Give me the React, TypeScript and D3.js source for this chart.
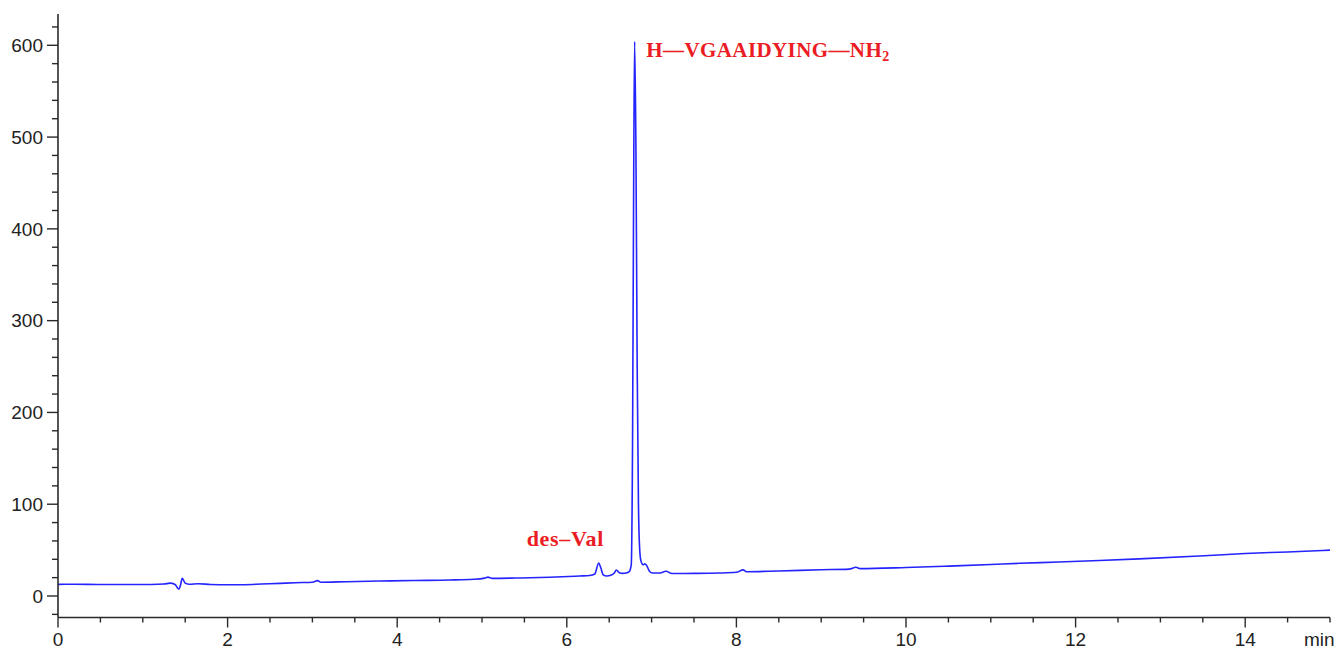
import React from "react";
import * as d3 from "d3";

const times = [
  0.0, 0.2, 0.5, 0.8, 1.1, 1.25, 1.32, 1.38, 1.426, 1.445, 1.465, 1.5, 1.55, 1.65, 1.8, 2.0, 2.2, 2.4, 2.62, 2.8,
  3.0, 3.06, 3.1, 3.4, 3.79, 4.2, 4.62, 4.9, 5.03, 5.07, 5.12, 5.4, 5.8, 6.15, 6.27, 6.33, 6.376, 6.4, 6.43, 6.47,
  6.52, 6.56, 6.585, 6.62, 6.66, 6.7, 6.735, 6.76, 6.775, 6.79, 6.8, 6.815, 6.83, 6.845, 6.86, 6.875, 6.9, 6.92,
  6.94, 6.975, 7.01, 7.09, 7.17, 7.24, 7.5, 7.8, 8.0, 8.08, 8.12, 8.5, 9.0, 9.33, 9.41, 9.46, 10.0, 10.51, 11.0,
  11.34, 11.8, 12.28, 12.75, 13.46, 14.0, 14.5, 15.0,
];
const signal = [
  12.7, 12.8, 12.5, 12.6, 12.6, 13.0, 14.0, 12.5, 7.3, 12.0, 19.3, 14.0, 12.8, 13.3, 12.6, 12.2, 12.3, 13.0, 13.8, 14.5,
  15.0, 16.7, 15.0, 15.6, 16.3, 16.9, 17.4, 18.2, 19.5, 20.6, 19.2, 19.6, 20.5, 21.8, 22.3, 24.0, 36.0, 31.0, 23.0, 21.8,
  22.5, 25.0, 28.3, 25.3, 24.6, 25.0, 26.5, 34.0, 160, 480, 604, 490, 250, 100, 50, 38, 34, 35,
  33.5, 27.0, 25.0, 25.0, 27.0, 24.5, 24.6, 25.0, 25.8, 28.5, 26.5, 27.3, 28.6, 29.3, 31.3, 29.8, 31.0, 32.6, 34.3,
  35.6, 37.0, 38.7, 40.5, 43.6, 46.3, 48.0, 50.0,
];
const xMajorTicks = [0, 2, 4, 6, 8, 10, 12, 14];
const yMajorTicks = [0, 100, 200, 300, 400, 500, 600];
const xUnit = "min";
const peakLabels = [
  { text: "des\u2013Val", t: 5.527, v: 54.8, size: 22, spacing: 0.7 },
  { text: "H\u2014VGAAIDYING\u2014NH", sub: "2", t: 6.938, v: 587.5, size: 21, spacing: 0.4 },
];

const W = 1335;
const H = 649;

export default function App() {
  const x = d3.scaleLinear().domain([0, 15]).range([58, 1330]);
  const y = d3.scaleLinear().domain([0, 600]).range([596, 45.3]);
  const yTop = 14;
  const yBottom = 617.5;
  const pts = times.map((t, i) => [t, signal[i]] as [number, number]);
  const line = d3
    .line<[number, number]>()
    .x((d) => x(d[0]))
    .y((d) => y(d[1]))
    .curve(d3.curveMonotoneX);

  const xMinor = d3.range(0, 15.01, 0.5).filter((v) => Math.abs(v % 2) > 1e-6);
  const yMinor = d3.range(-20, 621, 20).filter((v) => v % 100 !== 0);

  const axisColor = "#2a2a2a";
  const textColor = "#222";
  const red = "#ec1c24";

  return (
    <svg width={W} height={H} style={{ position: "absolute", left: 0, top: 0, background: "#fff" }}>
      <path d={line(pts) || ""} fill="none" stroke="#2424ff" strokeWidth={1.6} strokeLinejoin="round" />
      {/* y axis */}
      <line x1={58} x2={58} y1={yTop} y2={yBottom} stroke={axisColor} strokeWidth={1.6} />
      {yMajorTicks.map((v) => (
        <g key={"ym" + v}>
          <line x1={47} x2={58} y1={y(v)} y2={y(v)} stroke={axisColor} strokeWidth={1.4} />
          <text x={43} y={y(v)} dy="0.36em" textAnchor="end" fontFamily="Liberation Sans, Arial, sans-serif" fontSize={19} fill={textColor}>
            {v}
          </text>
        </g>
      ))}
      {yMinor.map((v) => (
        <line key={"yn" + v} x1={52} x2={58} y1={y(v)} y2={y(v)} stroke={axisColor} strokeWidth={1.4} />
      ))}
      {/* x axis */}
      <line x1={58} x2={1330} y1={yBottom} y2={yBottom} stroke={axisColor} strokeWidth={1.6} />
      {xMajorTicks.map((t) => (
        <g key={"xm" + t}>
          <line x1={x(t)} x2={x(t)} y1={yBottom} y2={yBottom + 10} stroke={axisColor} strokeWidth={1.4} />
          <text x={x(t)} y={646} textAnchor="middle" fontFamily="Liberation Sans, Arial, sans-serif" fontSize={19} fill={textColor}>
            {t}
          </text>
        </g>
      ))}
      {xMinor.map((t) => (
        <line key={"xn" + t} x1={x(t)} x2={x(t)} y1={yBottom} y2={yBottom + 5} stroke={axisColor} strokeWidth={1.4} />
      ))}
      <text x={1304} y={646} fontFamily="Liberation Sans, Arial, sans-serif" fontSize={19} fill={textColor}>
        {xUnit}
      </text>
      {peakLabels.map((p, i) => (
        <text
          key={"pl" + i}
          x={x(p.t)}
          y={y(p.v)}
          fontFamily="Liberation Serif, Times New Roman, serif"
          fontWeight="bold"
          fontSize={p.size}
          letterSpacing={p.spacing}
          fill={red}
        >
          {p.text}
          {p.sub ? (
            <tspan fontSize={14} dy={4}>
              {p.sub}
            </tspan>
          ) : null}
        </text>
      ))}
    </svg>
  );
}
